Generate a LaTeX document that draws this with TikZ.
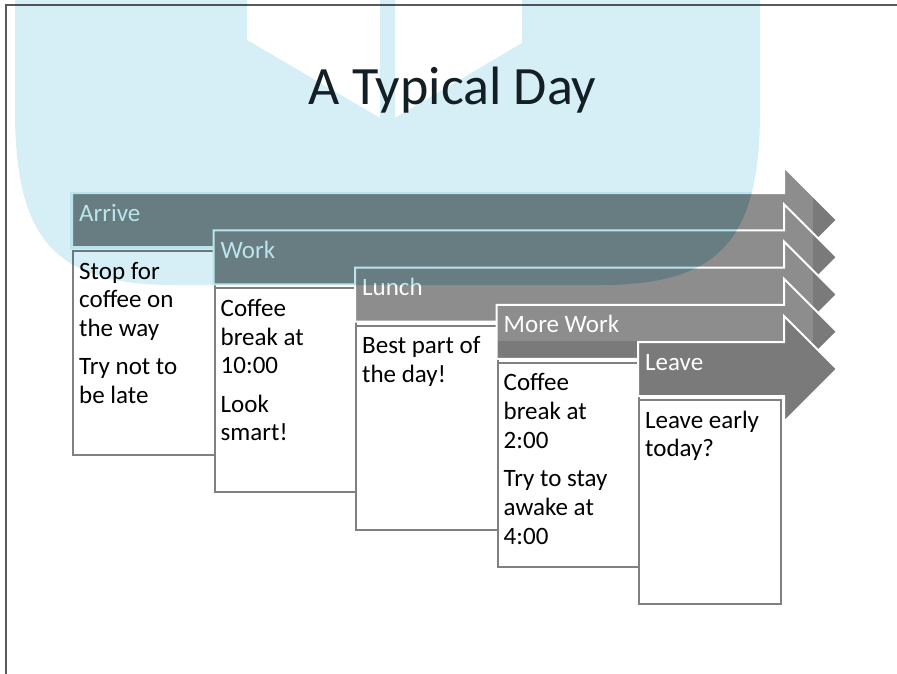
\documentclass[tikz,border=0pt]{standalone}
\usepackage{fontspec}
\setmainfont{Carlito}
\definecolor{wmblue}{RGB}{214,238,245}
\definecolor{wmdeep}{RGB}{224,245,247}
\definecolor{bargray}{RGB}{141,141,141}
\definecolor{bardark}{RGB}{122,122,122}
\definecolor{boxgray}{RGB}{128,128,128}
\definecolor{framegray}{RGB}{90,90,90}
\definecolor{titleink}{RGB}{18,32,38}
\tikzset{
  barfill/.style={fill=bargray},
  barline/.style={draw=white, line width=2pt, line join=miter},
  stepboxstyle/.style={draw=boxgray, fill=white, line width=2pt, anchor=north west, inner sep=0, minimum width=141.5pt, minimum height=204pt},
  barlabel/.style={anchor=base west, inner sep=0, text=white, font=\fontsize{25}{30}\selectfont},
  boxtext/.style={anchor=north west, inner sep=0, align=left, text=black, font=\fontsize{25}{28.7}\selectfont},
}
% #1 left, #2 top
\newcommand\dayarrowpath[2]{(#1,#2) -- (784,#2) -- (784,{#2-26}) -- (837,{#2+27}) -- (784,{#2+80}) -- (784,{#2+54}) -- (#1,{#2+54}) -- cycle}
\newcommand\wmouter{(15,0) -- (15,110) .. controls (15,240) and (55,285) .. (175,285) -- (600,285) .. controls (720,285) and (760,240) .. (760,110) -- (760,0) -- cycle}
\begin{document}
\begin{tikzpicture}[x=1pt,y=-1pt]
\useasboundingbox (0,0) rectangle (897,674);
\fill[white] (0,0) rectangle (897,674);

% Arrive
\fill[barfill] \dayarrowpath{72}{193};
\begin{scope}\clip \dayarrowpath{72}{193}; \fill[bardark] (813,150) rectangle (850,300);\end{scope}
\draw[barline] \dayarrowpath{72}{193};
\node[barlabel] (l1) at (79,221) {Arrive};
\node[stepboxstyle] (b1) at (72,250) {};
\node[boxtext] (t1) at (79,258.9) {\strut Stop for\\coffee on\\the way\\[9.6pt]Try not to\\be late};

% Work
\fill[barfill] \dayarrowpath{213.5}{230.25};
\begin{scope}\clip \dayarrowpath{213.5}{230.25}; \fill[bardark] (813,150) rectangle (850,350);\end{scope}
\draw[barline] \dayarrowpath{213.5}{230.25};
\node[barlabel] (l2) at (220.5,258.25) {Work};
\node[stepboxstyle] (b2) at (213.5,287.25) {};
\node[boxtext] (t2) at (220.5,296.15) {\strut Coffee\\break at\\10:00\\[9.6pt]Look\\smart!};

% Lunch
\fill[barfill] \dayarrowpath{355}{267.5};
\begin{scope}\clip \dayarrowpath{355}{267.5}; \fill[bardark] (813,150) rectangle (850,400);\end{scope}
\draw[barline] \dayarrowpath{355}{267.5};
\node[barlabel] (l3) at (362,295.5) {Lunch};
\node[stepboxstyle] (b3) at (355,324.5) {};
\node[boxtext] (t3) at (362,333.4) {\strut Best part of\\the day!};

% More Work
\fill[barfill] \dayarrowpath{496.5}{304.75};
\begin{scope}\clip \dayarrowpath{496.5}{304.75}; \fill[bardark] (813,150) rectangle (850,450);
  \fill[bardark] (480,341) rectangle (850,370);\end{scope}
\draw[barline] \dayarrowpath{496.5}{304.75};
\node[barlabel] (l4) at (503.5,332.75) {More Work};
\node[stepboxstyle] (b4) at (496.5,361.75) {};
\node[boxtext] (t4) at (503.5,370.65) {\strut Coffee\\break at\\2:00\\[9.6pt]Try to stay\\awake at\\4:00};

% Leave
\fill[bardark] \dayarrowpath{638}{342};
\draw[barline] \dayarrowpath{638}{342};
\node[barlabel] (l5) at (645,370) {Leave};
\node[stepboxstyle] (b5) at (638,399) {};
\node[boxtext] (t5) at (645,407.9) {\strut Leave early\\today?};

% frame
\draw[framegray, line width=1.5pt] (6,674) -- (6,5) -- (897,5);

% watermark
\begin{scope}[blend mode=multiply]
\fill[wmblue, even odd rule] \wmouter
  (247,0) -- (247,40) -- (380,118) -- (380,0) -- cycle
  (395,0) -- (395,118) -- (522,43) -- (522,0) -- cycle;
\begin{scope}
\clip \wmouter;
\fill[wmdeep] (70,192) -- (784,192) -- (784,322) -- (212.5,322) -- (212.5,249) -- (70,249) -- cycle;
\end{scope}
\end{scope}

\node[anchor=base, inner sep=0, text=titleink, font=\fontsize{54}{60}\selectfont] (title) at (452.5,105) {A Typical Day};
\end{tikzpicture}
\end{document}
